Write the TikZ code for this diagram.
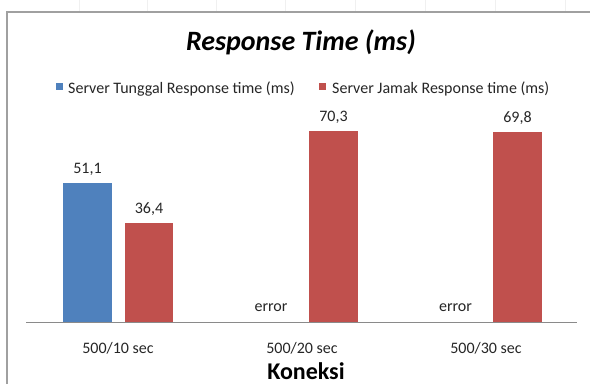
\documentclass[tikz,border=0pt]{standalone}
\usepackage{fontspec}
\setmainfont{Carlito}
\definecolor{serverblue}{HTML}{4F81BD}
\definecolor{serverred}{HTML}{C0504D}
\definecolor{framegray}{HTML}{A0A0A0}
\definecolor{axisgray}{HTML}{8A8A8A}
\definecolor{gridfaint}{HTML}{F0F0F0}
\tikzset{
  lbl/.style={anchor=base, inner sep=0pt, font=\fontsize{16}{19}\selectfont, text=black!85},
  leglbl/.style={anchor=base west, inner sep=0pt, font=\fontsize{16}{19}\selectfont, text=black!85},
  bigtitle/.style={anchor=base, inner sep=0pt, font=\fontsize{28}{33}\selectfont\bfseries\itshape},
  axtitle/.style={anchor=base, inner sep=0pt, font=\fontsize{24}{28}\selectfont\bfseries},
}
\begin{document}
\begin{tikzpicture}[x=1pt,y=-1pt]
\useasboundingbox (0,0) rectangle (590,384);
\fill[white] (0,0) rectangle (590,384);
% faint spreadsheet grid outside the chart
\foreach \gx in {79,147,216,285,355,425,495,565}
  \draw[gridfaint, line width=0.6pt] (\gx,0) -- (\gx,12);
% chart frame
\draw[framegray, line width=1.5pt] (7,384) -- (7,12) -- (590,12);
% title
\node[bigtitle] (title) at (301,50) {Response Time (ms)};
% legend
\fill[serverblue] (56,83) rectangle (63,90);
\node[leglbl] (leg1) at (68,93) {Server Tunggal Response time (ms)};
\fill[serverred] (319,83) rectangle (326,90);
\node[leglbl] (leg2) at (332,93) {Server Jamak Response time (ms)};
% bars (axis at y=322, 2.72 px per unit)
\fill[serverblue] (63,322) rectangle (112,183);
\fill[serverred] (125,322) rectangle (173,223);
\fill[serverred] (309,322) rectangle (358,130.8);
\fill[serverred] (493,322) rectangle (542,132.1);
% axis
\draw[axisgray, line width=1pt] (26,322) -- (577,322);
% data labels
\node[lbl] (v1) at (87.5,173) {51,1};
\node[lbl] (v2) at (149,213) {36,4};
\node[lbl] (v3) at (333.5,121) {70,3};
\node[lbl] (v4) at (517.5,122) {69,8};
\node[lbl] (e1) at (271,311) {error};
\node[lbl] (e2) at (455.5,311) {error};
% categories
\node[lbl] (c1) at (118,353) {500/10 sec};
\node[lbl] (c2) at (302,353) {500/20 sec};
\node[lbl] (c3) at (486,353) {500/30 sec};
% axis title
\node[axtitle] (xt) at (306,379) {Koneksi};
\end{tikzpicture}
\end{document}
